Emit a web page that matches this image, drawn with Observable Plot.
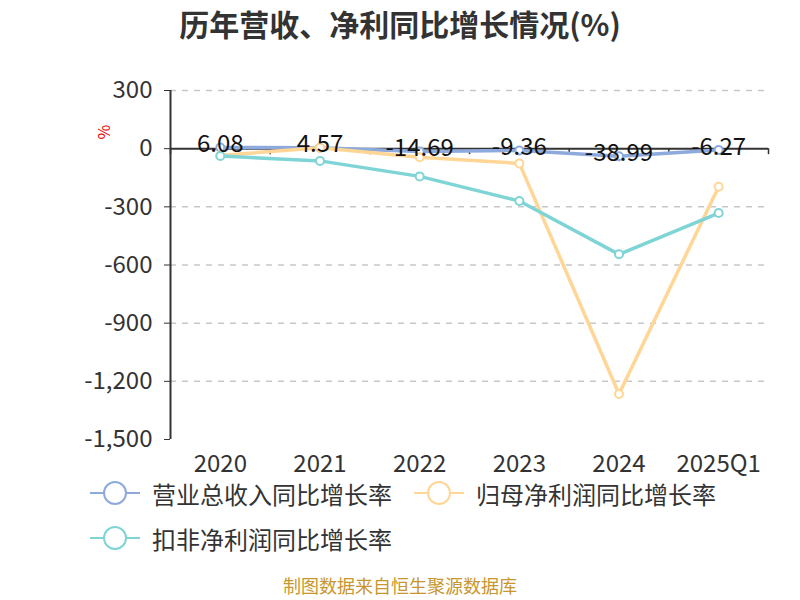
<!DOCTYPE html>
<html><head><meta charset="utf-8">
<script src="https://cdn.jsdelivr.net/npm/d3@7"></script>
<script src="https://cdn.jsdelivr.net/npm/@observablehq/plot@0.6"></script>
<style>
body{margin:0;background:#fff;font-family:"Noto Sans CJK SC","Noto Sans",sans-serif;}
#wrap{position:relative;width:800px;height:600px;overflow:hidden;}
#title{position:absolute;top:1px;left:0;width:800px;text-align:center;font-size:30px;font-weight:bold;color:#333;}
#chart{position:absolute;top:0;left:0;}
#legend{position:absolute;left:90px;top:475px;width:700px;}
.row{display:flex;height:36px;margin-bottom:9px;}
.item{display:flex;align-items:center;height:36px;margin-right:22px;font-size:24px;color:#333;}
.item svg{margin-right:12px;}
#caption{position:absolute;top:575px;left:0;width:800px;text-align:center;font-size:18px;color:#c8962e;line-height:20px;}
#unit{position:absolute;left:96px;top:120px;color:#e00;font-size:16px;transform:rotate(-90deg);}
</style></head>
<body><div id="wrap">
<div id="title">历年营收、净利同比增长情况(%)</div>
<div id="chart"></div>
<div id="unit">%</div>
<div id="legend"></div>
<div id="caption">制图数据来自恒生聚源数据库</div>
</div>
<script>
const categories = ["2020","2021","2022","2023","2024","2025Q1"];
const seriesNames = ["营业总收入同比增长率","归母净利润同比增长率","扣非净利润同比增长率"];
const revenue = [6.08, 4.57, -14.69, -9.36, -38.99, -6.27];
const netProfit = [-35, 5, -44, -76, -1265, -196];
const deductedProfit = [-38, -63, -143, -270, -545, -332];
const colors = ["#8eaadc", "#ffd696", "#7fd4d6"];
const yTicks = [300, 0, -300, -600, -900, -1200, -1500];

const allSeries = [revenue, netProfit, deductedProfit];
const data = [];
allSeries.forEach((vals, s) => vals.forEach((v, i) => data.push({series: seriesNames[s], idx: i, value: v})));
const revData = data.filter(d => d.series === seriesNames[0]);
const boundaries = d3.range(categories.length + 1).map(i => i - 0.5);
const gridTicks = yTicks.filter(t => t !== 0 && t !== d3.min(yTicks));
const fmt = d => d3.format(",")(d).replace("\u2212", "-");

const chart = Plot.plot({
  width: 800, height: 480,
  marginLeft: 170, marginRight: 32, marginTop: 90, marginBottom: 41,
  style: {fontFamily: '"Noto Sans CJK SC","Noto Sans",sans-serif', fontSize: "24px", color: "#333", background: "transparent"},
  x: {type: "linear", domain: [-0.5, categories.length - 0.5]},
  y: {domain: [d3.min(yTicks), d3.max(yTicks)]},
  color: {domain: seriesNames, range: colors},
  marks: [
    Plot.ruleY(gridTicks, {stroke: "#c8c8c8", strokeWidth: 1.5, strokeDasharray: "6,6"}),
    Plot.axisY({ticks: yTicks, tickFormat: fmt, tickSize: 6, tickPadding: 12, fontSize: 24, fill: "#333", stroke: "#333", label: null}),
    Plot.ruleX([-0.5], {stroke: "#333", strokeWidth: 2}),
    Plot.axisX({ticks: d3.range(categories.length), tickFormat: i => categories[i], tickSize: 0, tickPadding: 15, fontSize: 24, fill: "#333", label: null}),
    Plot.ruleY([0], {stroke: "#333", strokeWidth: 2}),
    Plot.ruleX(boundaries, {y1: 0, y2: 0, insetBottom: -6, stroke: "#333", strokeWidth: 1.5}),
    Plot.line(data, {x: "idx", y: "value", z: "series", stroke: "series", strokeWidth: 3.5}),
    Plot.dot(data, {x: "idx", y: "value", stroke: "series", fill: "white", r: 4, strokeWidth: 2}),
    Plot.text(revData, {x: "idx", y: "value", text: d => d.value.toFixed(2), dy: -3, fontSize: 24, fill: "#111"})
  ]
});
document.getElementById("chart").appendChild(chart);

const legend = document.getElementById("legend");
const rows = [[0, 1], [2]];
rows.forEach(r => {
  const row = document.createElement("div");
  row.className = "row";
  r.forEach(i => {
    const el = document.createElement("div");
    el.className = "item";
    el.innerHTML = `<svg width="50" height="26"><line x1="0" y1="13" x2="50" y2="13" stroke="${colors[i]}" stroke-width="2"/><circle cx="25" cy="13" r="11" fill="white" stroke="${colors[i]}" stroke-width="2"/></svg><span>${seriesNames[i]}</span>`;
    row.appendChild(el);
  });
  legend.appendChild(row);
});
</script>
</body></html>
